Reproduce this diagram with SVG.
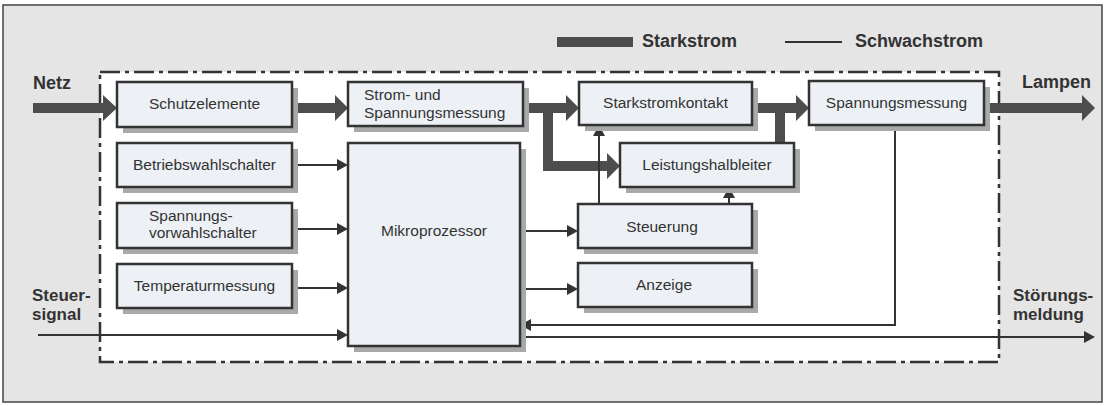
<svg xmlns="http://www.w3.org/2000/svg" width="1107" height="406" viewBox="0 0 1107 406">
<defs>
<style>
.box{fill:#edf1f5;stroke:#333;stroke-width:2.5}
.sh{fill:#a9a9a9}
.t{font-family:"Liberation Sans",Arial,sans-serif;font-size:15.5px;fill:#333}
.tc{text-anchor:middle}
.lb{font-family:"Liberation Sans",Arial,sans-serif;font-size:18px;font-weight:bold;fill:#333}
.lb2{font-family:"Liberation Sans",Arial,sans-serif;font-size:17px;font-weight:bold;fill:#333}
.thick{stroke:#4d4d4d;stroke-width:10;fill:none}
.thickh{fill:#4d4d4d}
.thin{stroke:#333;stroke-width:2;fill:none}
.thinh{fill:#333}
</style>
</defs>
<rect x="3" y="5" width="1099" height="397" fill="#e5e5e5" stroke="#444" stroke-width="1.5"/>
<rect x="100" y="72" width="899" height="290" fill="#fff" stroke="#333" stroke-width="2.5" stroke-dasharray="20 5 4 5"/>
<g id="legend">
<rect x="557" y="37" width="76" height="10" fill="#4d4d4d"/>
<text class="lb" x="642" y="47">Starkstrom</text>
<line x1="785" y1="42" x2="842" y2="42" stroke="#333" stroke-width="2"/>
<text class="lb" x="855" y="47">Schwachstrom</text>
</g>
<g id="labels">
<text class="lb" x="33" y="89">Netz</text>
<text class="lb" x="1022" y="88">Lampen</text>
<text class="lb2" x="32" y="301">Steuer-</text>
<text class="lb2" x="32" y="320">signal</text>
<text class="lb2" x="1013" y="301">Störungs-</text>
<text class="lb2" x="1013" y="320">meldung</text>
</g>
<g id="connectors">
<line class="thick" x1="33" y1="108" x2="104" y2="108"/>
<polygon class="thickh" points="103,95 117,108 103,121"/>
<line class="thick" x1="292" y1="108" x2="336" y2="108"/>
<polygon class="thickh" points="335,95 348,108 335,121"/>
<line class="thick" x1="523" y1="108" x2="567" y2="108"/>
<polygon class="thickh" points="566,95 579,108 566,121"/>
<polyline class="thick" points="548,108 548,166 608,166"/>
<polygon class="thickh" points="607,153 620,166 607,179"/>
<line class="thick" x1="752" y1="108" x2="797" y2="108"/>
<polygon class="thickh" points="796,95 809,108 796,121"/>
<line class="thick" x1="780" y1="143" x2="780" y2="108"/>
<line class="thick" x1="984" y1="108" x2="1083" y2="108"/>
<polygon class="thickh" points="1082,95 1095,108 1082,121"/>
<line class="thin" x1="292" y1="165" x2="338" y2="165"/>
<polygon class="thinh" points="337,159 348,165 337,171"/>
<line class="thin" x1="292" y1="229" x2="338" y2="229"/>
<polygon class="thinh" points="337,223 348,229 337,235"/>
<line class="thin" x1="292" y1="288" x2="338" y2="288"/>
<polygon class="thinh" points="337,282 348,288 337,294"/>
<line class="thin" x1="38" y1="335" x2="338" y2="335"/>
<polygon class="thinh" points="337,329 348,335 337,341"/>
<line class="thin" x1="520" y1="231" x2="568" y2="231"/>
<polygon class="thinh" points="567,225 578,231 567,237"/>
<line class="thin" x1="520" y1="289" x2="568" y2="289"/>
<polygon class="thinh" points="567,283 578,289 567,295"/>
<polyline class="thin" points="895,125 895,325 530,325"/>
<polygon class="thinh" points="531,319 520,325 531,331"/>
<line class="thin" x1="520" y1="337" x2="1085" y2="337"/>
<polygon class="thinh" points="1084,331 1095,337 1084,343"/>
<line class="thin" x1="599" y1="204" x2="599" y2="135"/>
<polygon class="thinh" points="593,136 599,125 605,136"/>
<line class="thin" x1="729" y1="204" x2="729" y2="197"/>
<polygon class="thinh" points="723,198 729,187 735,198"/>
</g>
<g id="schutzelemente">
<rect class="sh" x="123" y="88" width="175" height="45"/>
<rect class="box" x="117" y="82" width="175" height="45"/>
<text class="t tc" x="204.5" y="109">Schutzelemente</text>
</g>
<g id="betriebswahlschalter">
<rect class="sh" x="123" y="149" width="175" height="44"/>
<rect class="box" x="117" y="143" width="175" height="44"/>
<text class="t tc" x="204.5" y="170">Betriebswahlschalter</text>
</g>
<g id="spannungsvorwahlschalter">
<rect class="sh" x="123" y="209" width="175" height="45"/>
<rect class="box" x="117" y="203" width="175" height="45"/>
<text class="t" x="149" y="221">Spannungs-</text>
<text class="t" x="149" y="238">vorwahlschalter</text>
</g>
<g id="temperaturmessung">
<rect class="sh" x="123" y="270" width="175" height="44"/>
<rect class="box" x="117" y="264" width="175" height="44"/>
<text class="t tc" x="204.5" y="291">Temperaturmessung</text>
</g>
<g id="strom-spannungsmessung">
<rect class="sh" x="354" y="88" width="175" height="44"/>
<rect class="box" x="348" y="82" width="175" height="44"/>
<text class="t" x="364" y="100">Strom- und</text>
<text class="t" x="364" y="118">Spannungsmessung</text>
</g>
<g id="mikroprozessor">
<rect class="sh" x="354" y="149" width="172" height="203"/>
<rect class="box" x="348" y="143" width="172" height="203"/>
<text class="t tc" x="434" y="236">Mikroprozessor</text>
</g>
<g id="starkstromkontakt">
<rect class="sh" x="585" y="88" width="173" height="43"/>
<rect class="box" x="579" y="82" width="173" height="43"/>
<text class="t tc" x="665.5" y="108">Starkstromkontakt</text>
</g>
<g id="leistungshalbleiter">
<rect class="sh" x="626" y="149" width="174" height="44"/>
<rect class="box" x="620" y="143" width="174" height="44"/>
<text class="t tc" x="707" y="170">Leistungshalbleiter</text>
</g>
<g id="steuerung">
<rect class="sh" x="584" y="210" width="174" height="44"/>
<rect class="box" x="578" y="204" width="174" height="44"/>
<text class="t tc" x="662" y="232">Steuerung</text>
</g>
<g id="anzeige">
<rect class="sh" x="584" y="269" width="174" height="44"/>
<rect class="box" x="578" y="263" width="174" height="44"/>
<text class="t tc" x="664" y="290">Anzeige</text>
</g>
<g id="spannungsmessung">
<rect class="sh" x="815" y="87" width="175" height="44"/>
<rect class="box" x="809" y="81" width="175" height="44"/>
<text class="t tc" x="896.5" y="108">Spannungsmessung</text>
</g>
</svg>
